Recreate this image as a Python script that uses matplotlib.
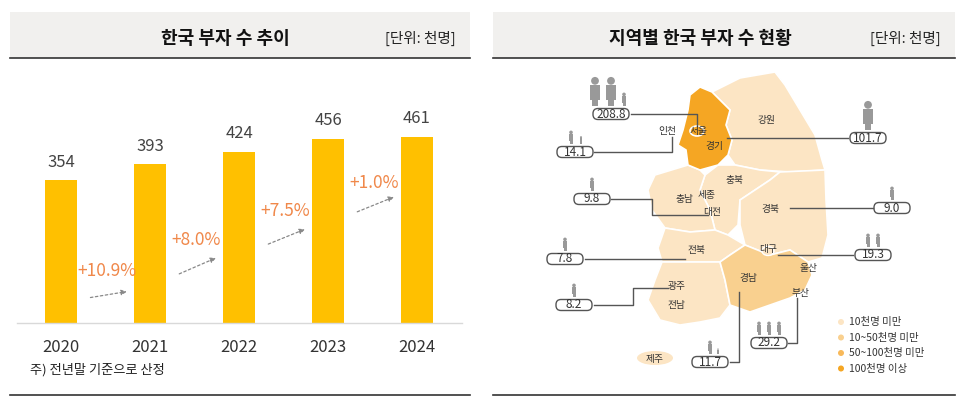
import matplotlib
matplotlib.use("Agg")
import matplotlib.pyplot as plt
from matplotlib import font_manager
from matplotlib.patches import Polygon, Ellipse, FancyBboxPatch, Circle, Rectangle

names = {f.name for f in font_manager.fontManager.ttflist}
for fam in ["Noto Sans CJK KR", "Noto Sans CJK JP", "Noto Sans CJK SC"]:
    if fam in names:
        plt.rcParams["font.family"] = fam
        break

years = ["2020", "2021", "2022", "2023", "2024"]
rich = [354, 393, 424, 456, 461]
growth = ["+10.9%", "+8.0%", "+7.5%", "+1.0%"]

regions = ["서울", "경기", "인천", "충남·대전", "경북", "전북", "대구", "광주·전남", "부산", "경남"]
region_vals = [208.8, 101.7, 14.1, 9.8, 9.0, 7.8, 19.3, 8.2, 29.2, 11.7]
legend_labels = ["10천명 미만", "10~50천명 미만", "50~100천명 미만", "100천명 이상"]

W, H = 960, 404
fig = plt.figure(figsize=(W/100, H/100), dpi=100)
bg = fig.add_axes([0, 0, 1, 1])
bg.set_xlim(0, W); bg.set_ylim(H, 0); bg.axis("off")

BAR = "#ffc000"; ORG = "#f0884a"
for x0, x1, title, tx in [(10, 470, "한국 부자 수 추이", 225), (493, 955, "지역별 한국 부자 수 현황", 700)]:
    bg.add_patch(Rectangle((x0, 12), x1-x0, 46, color="#f1f0ee", lw=0))
    bg.plot([x0, x1], [58, 58], color="#333333", lw=1.2)
    bg.plot([x0, x1], [395, 395], color="#333333", lw=1.2)
    bg.text(tx, 38, title, ha="center", va="center", fontsize=13, fontweight="bold", color="#111")
    bg.text(x1-14, 38, "[단위: 천명]", ha="right", va="center", fontsize=10.5, color="#222")
bg.text(30, 370, "주) 전년말 기준으로 산정", fontsize=9.5, va="center", color="#222")

# bar chart
ax = fig.add_axes([16.5/W, 1-323/H, 445/W, 233/H])
ax.set_xlim(-0.5, 4.5); ax.set_ylim(0, 233/0.4035)
ax.axis("off")
ax.bar(range(5), rich, width=0.37, color=BAR)
ax.plot([-0.5, 4.5], [0, 0], color="#d9d9d9", lw=1, clip_on=False)
for i, v in enumerate(rich):
    ax.text(i, v + 45, str(v), ha="center", va="center", fontsize=12, color="#444")
    ax.text(i, -60, years[i], ha="center", va="center", fontsize=12, color="#333")
lab_y = [129, 206, 278, 347]
arr_y = [(62, 79), (119, 164), (193, 235), (273, 315)]
for i, g in enumerate(growth):
    ax.text(i + 0.52, lab_y[i], g, ha="center", va="center", fontsize=12.5, color=ORG)
    ax.annotate("", xy=(i+0.77, arr_y[i][1]), xytext=(i+0.3, arr_y[i][0]),
                arrowprops=dict(arrowstyle="-|>", color="#888", lw=0.9, ls=(0, (2, 2)), mutation_scale=8))

# map
L1, L2, L3, L4 = "#fce5c4", "#f9d08f", "#f8b95a", "#f5a623"
polys = {
    "gangwon": ([(712,92),(740,78),(775,72),(785,85),(800,110),(815,135),(822,160),(825,170),(790,172),(760,170),(735,165),(728,155),(732,140),(726,125),(730,110),(720,100)], L1),
    "chungbuk": ([(718,165),(735,165),(760,170),(780,172),(770,180),(755,190),(740,200),(738,225),(728,235),(715,230),(710,210),(700,190),(705,175)], L1),
    "chungnam": ([(655,175),(688,165),(700,170),(705,175),(700,190),(710,210),(715,230),(690,232),(665,228),(652,210),(648,190)], L1),
    "gyeongbuk": ([(780,172),(825,170),(826,200),(828,235),(822,258),(808,262),(790,250),(770,255),(745,245),(740,225),(740,200),(755,190),(770,180)], L1),
    "jeonbuk": ([(665,228),(690,232),(715,230),(728,235),(745,245),(730,255),(720,262),(700,262),(680,262),(662,262),(658,248)], L1),
    "jeonnam": ([(662,262),(700,262),(720,262),(725,280),(730,305),(720,318),(700,322),(680,325),(660,320),(648,300),(655,280)], L1),
    "gyeongnam": ([(720,262),(730,255),(745,245),(770,255),(790,250),(808,262),(812,275),(805,290),(790,298),(770,305),(750,312),(730,305),(725,280)], L2),
    "gyeonggi": ([(690,95),(700,87),(712,92),(720,100),(730,110),(726,125),(732,140),(728,155),(718,165),(700,170),(688,165),(686,150),(678,145),(683,130),(688,110)], L4),
}
for pts, c in polys.values():
    bg.add_patch(Polygon(pts, closed=True, fc=c, ec="white", lw=1.2))
bg.add_patch(Ellipse((697, 131), 14, 10, fc=L4, ec="white", lw=1.2))
bg.add_patch(Ellipse((768, 251), 12, 9, fc=L1, ec="white", lw=1))
bg.add_patch(Ellipse((655, 358), 36, 14, fc=L1, ec="none"))

labels = [("강원",766,120),("인천",667,131),("서울",699,131),("경기",714,146),("충북",735,180),("충남",684,199),
          ("세종",707,195),("대전",712,212),("경북",770,209),("대구",768,249),("울산",808,268),("경남",748,278),
          ("부산",800,293),("전북",697,250),("광주",677,286),("전남",677,305),("제주",655,359)]
for t, x, y in labels:
    bg.text(x, y, t, ha="center", va="center", fontsize=7, color="#333")

boxes = [(611,114),(868,138),(575,152),(592,199),(892,208),(565,259),(873,255),(574,305),(769,343),(710,362)]
icons = [[(1.3,-16),(1.3,0),(0.6,13)],[(1.3,0)],[(0.6,-4),(0.35,6)],[(0.6,0)],[(0.6,0)],[(0.6,0)],
         [(0.6,-5),(0.6,5)],[(0.6,0)],[(0.6,-10),(0.6,0),(0.6,10)],[(0.6,0),(0.25,8)]]
lines = [[(631,114),(697,114),(697,126)],[(848,138),(727,138)],[(594,152),(672,152),(672,137)],
         [(611,199),(652,199),(652,215),(708,215)],[(873,208),(790,208)],[(585,259),(685,259)],
         [(853,255),(778,255)],[(594,305),(633,305),(633,288),(668,288)],[(788,343),(797,343),(797,298)],
         [(730,362),(739,362),(739,292)]]
for (bx, by), v, ic, ln in zip(boxes, region_vals, icons, lines):
    xs, ys = zip(*ln)
    bg.plot(xs, ys, color="#555", lw=1)
    bg.add_patch(FancyBboxPatch((bx-18, by-5.5), 36, 11, boxstyle="round,pad=0,rounding_size=5",
                                fc="white", ec="#555", lw=1))
    bg.text(bx, by, f"{v}", ha="center", va="center", fontsize=8.5, color="#333")
    for s, dx in ic:
        cx = bx + dx; foot = by - 8
        h = 22 * s
        bg.add_patch(Rectangle((cx - 4*s, foot - h*0.75), 8*s, h*0.55, color="#999", lw=0))
        bg.add_patch(Rectangle((cx - 2.5*s, foot - h*0.3), 5*s, h*0.3, color="#999", lw=0))
        bg.add_patch(Circle((cx, foot - h*0.88), 3*s, color="#999", lw=0))

for i, (t, c) in enumerate(zip(legend_labels, [L1, L2, L3, L4])):
    y = 322 + i*15.5
    bg.add_patch(Circle((841, y), 3, color=c, lw=0))
    bg.text(849, y, t, va="center", fontsize=7.5, color="#333")

fig.savefig("out.png", dpi=100)
